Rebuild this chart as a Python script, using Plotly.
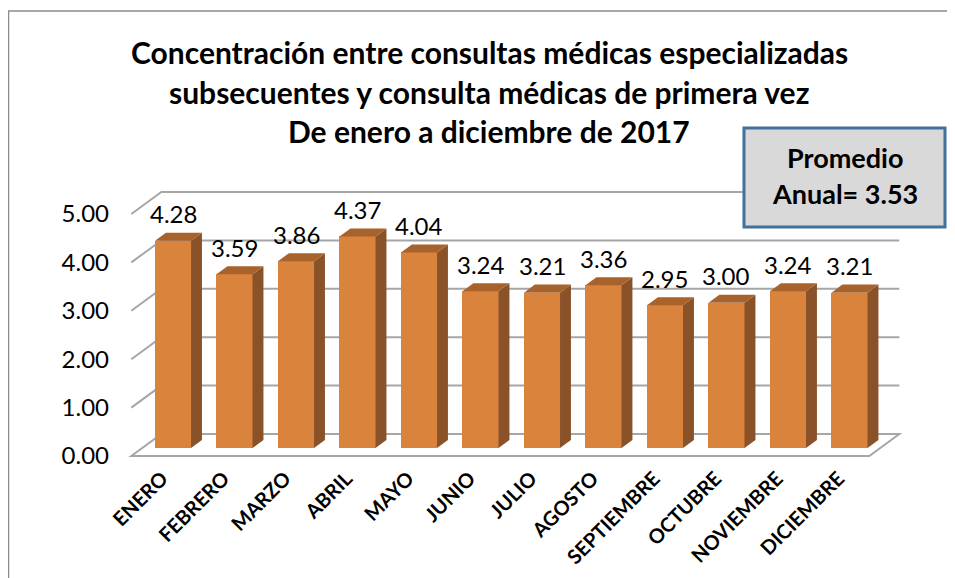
import plotly.graph_objects as go

# ---------------- data ----------------
months = ["ENERO", "FEBRERO", "MARZO", "ABRIL", "MAYO", "JUNIO", "JULIO",
          "AGOSTO", "SEPTIEMBRE", "OCTUBRE", "NOVIEMBRE", "DICIEMBRE"]
values = [4.28, 3.59, 3.86, 4.37, 4.04, 3.24, 3.21, 3.36, 2.95, 3.00, 3.24, 3.21]
y_ticks = [0, 1, 2, 3, 4, 5]
y_tick_labels = ["0.00", "1.00", "2.00", "3.00", "4.00", "5.00"]
title_lines = ["Concentración entre consultas médicas especializadas",
               "subsecuentes y consulta médicas de primera vez",
               "De enero a diciembre de 2017"]
promedio = 3.53

# ---------------- style / geometry ----------------
OFF = 8                                   # page body margin of the html
W, H = 955 - OFF, 578 - OFF
PL, PB = 120 - OFF, 462 - OFF
PR, PT = 910 - OFF, 175 - OFF            # plot area (figure px)
X_RANGE = [-0.862, 11.984]
Y_RANGE = [-0.289, 5.640]
DX, DY = 0.488, 0.455        # full depth vector (axis units)
TB = 0.364                   # plane of bar fronts (0 = front edge, 1 = back wall)
BAR_DEPTH = 0.364
HALF_W = 0.293
FRONT = "#DA833C"
SIDE = "#8A5228"
TOP = "#A8622C"
GRID = "#A6A6A6"
FONT = "Lato"


def plane(x, v, t):
    """point at category-x / value v on depth plane t -> axis coords"""
    return x + (t - TB) * DX, v + (t - TB) * DY


def px2paper_x(p):
    p -= OFF
    return (p - PL) / (PR - PL)


def px2paper_y(p):
    p -= OFF
    return (PB - p) / (PB - PT)


n = len(months)
xs = list(range(n))

fig = go.Figure()
fig.add_trace(go.Bar(x=xs, y=values, width=2 * HALF_W,
                     marker=dict(color=FRONT, line=dict(width=0)),
                     hoverinfo="x+y", showlegend=False))

shapes = []
xl, xr = -0.5, n - 0.5

# floor
fl = plane(xl, 0, 0); fr = plane(xr, 0, 0); br = plane(xr, 0, 1); bl = plane(xl, 0, 1)
shapes.append(dict(type="path", xref="x", yref="y", layer="below",
                   path=f"M{fl[0]},{fl[1]} L{fr[0]},{fr[1]} L{br[0]},{br[1]} L{bl[0]},{bl[1]} Z",
                   line=dict(color=GRID, width=2), fillcolor="white"))
# gridlines (left wall diagonal + back wall)
for v in y_ticks[1:]:
    a = plane(xl, v, 0); b = plane(xl, v, 1); c = plane(xr, v, 1)
    shapes.append(dict(type="path", xref="x", yref="y", layer="below",
                       path=f"M{a[0]},{a[1]} L{b[0]},{b[1]} L{c[0]},{c[1]}",
                       line=dict(color=GRID, width=2)))

# bar side and top faces
for x, v in zip(xs, values):
    r0 = x + HALF_W
    l0 = x - HALF_W
    ddx, ddy = BAR_DEPTH * DX, BAR_DEPTH * DY
    shapes.append(dict(type="path", xref="x", yref="y", layer="above",
                       path=f"M{r0},0 L{r0 + ddx},{ddy} L{r0 + ddx},{v + ddy} L{r0},{v} Z",
                       fillcolor=SIDE, line=dict(width=0)))
    shapes.append(dict(type="path", xref="x", yref="y", layer="above",
                       path=f"M{l0},{v} L{r0},{v} L{r0 + ddx},{v + ddy} L{l0 + ddx},{v + ddy} Z",
                       fillcolor=TOP, line=dict(width=0)))

# outer frame (only left and top edges are inside the picture)
fx0, fy0 = px2paper_x(8.5), px2paper_y(11)
fy1 = px2paper_y(600)
fx1 = px2paper_x(1000)
shapes.append(dict(type="path", xref="paper", yref="paper", layer="below",
                   path=f"M{fx0},{fy1} L{fx0},{fy0} L{fx1},{fy0}",
                   line=dict(color="#8C8C8C", width=1.5)))
# promedio box
shapes.append(dict(type="rect", xref="paper", yref="paper", layer="above",
                   x0=px2paper_x(744), x1=px2paper_x(945),
                   y0=px2paper_y(227), y1=px2paper_y(128),
                   fillcolor="#D9D9D9", line=dict(color="#41719C", width=3)))

annotations = []
for x, v in zip(xs, values):
    annotations.append(dict(x=x, y=v, xref="x", yref="y", text=f"{v:.2f}",
                            showarrow=False, yshift=27, yanchor="middle", xanchor="center",
                            font=dict(family=FONT, size=24, color="black")))
for line, py in zip(title_lines, [52, 92, 131]):
    annotations.append(dict(x=px2paper_x(489), y=px2paper_y(py), xref="paper", yref="paper",
                            text=f"<b>{line}</b>", showarrow=False, yanchor="middle",
                            xanchor="center",
                            font=dict(family=FONT, size=30, color="black")))
for line, py in zip(["Promedio", f"Anual= {promedio:.2f}"], [157, 193]):
    annotations.append(dict(x=px2paper_x(844.5), y=px2paper_y(py), xref="paper", yref="paper",
                            text=f"<b>{line}</b>", showarrow=False, yanchor="middle",
                            xanchor="center",
                            font=dict(family=FONT, size=27, color="black")))

fig.update_layout(
    width=W, height=H,
    margin=dict(l=PL, r=W - PR, t=PT, b=H - PB, pad=0, autoexpand=False),
    paper_bgcolor="white", plot_bgcolor="white",
    shapes=shapes, annotations=annotations, showlegend=False,
    xaxis=dict(range=X_RANGE, showgrid=False, zeroline=False, showline=False,
               automargin=False,
               tickmode="array", tickvals=[x - TB * DX for x in xs], ticktext=months,
               tickangle=-45, tickfont=dict(family=FONT, size=20, color="black", weight="bold"),
               ticks=""),
    yaxis=dict(range=Y_RANGE, showgrid=False, zeroline=False, showline=False,
               automargin=False,
               tickmode="array", tickvals=[v - TB * DY for v in y_ticks], ticktext=y_tick_labels,
               tickfont=dict(family=FONT, size=24, color="black"), ticks="",
               ticklabelstandoff=10),
    bargap=0,
)

fig.write_html(
    "out.html",
    config={"displayModeBar": False},
    post_script="document.documentElement.style.overflow='hidden';"
                "document.body.style.overflow='hidden';",
)
